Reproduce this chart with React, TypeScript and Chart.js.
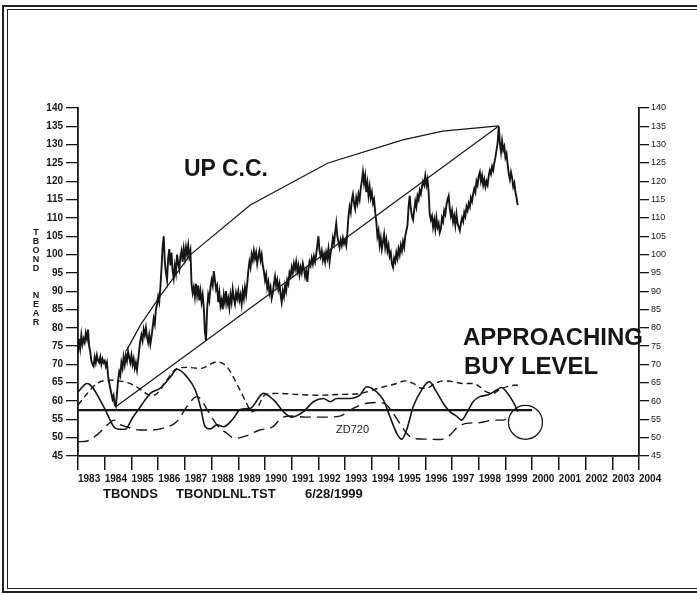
import React, { useEffect, useRef } from "react";
import { Chart, registerables } from "chart.js";

Chart.register(...registerables);

// ---------- data ----------
const yearMin = 1983;
const yearMax = 2004;
const valueMin = 45;
const valueMax = 140;
const valueStep = 5;

// T-bond price, half-month samples starting 1983.0
const priceStartYear = 1983;
const priceStepYears = 1 / 24;
const priceValues = [
  // 1983
  73, 77, 74.5, 78, 75.5, 77, 76, 78.5, 77, 79.5, 75, 73.5, 71, 70, 69.5, 72, 70.5, 72.5, 71, 70.5, 72, 70, 71.5, 70.5,
  // 1984
  71, 69.5, 70.5, 67, 65, 63.5, 62, 60.5, 61.5, 59, 58.5, 62, 65.5, 68, 67, 70.5, 69, 72, 70, 72.5, 71, 73.5, 72, 70.5,
  // 1985
  72.5, 70, 71.5, 69, 70.5, 68.5, 71, 74, 76.5, 78, 76.5, 79.5, 78, 80, 77.5, 76, 78, 75.5, 77.5, 80, 82.5, 81, 85, 86.5,
  // 1986
  88.5, 87, 91, 96, 102, 105, 98, 95, 93, 99, 101.5, 97, 100.5, 95.5, 93.5, 97, 95, 100, 97.5, 96, 99.5, 101, 98, 101.5,
  // 1987
  99, 102, 100, 102.5, 99.5, 101, 92, 89.5, 91, 88.5, 92, 89, 91.5, 87.5, 90, 87, 89, 85.5, 79, 76.5, 85, 89, 87.5, 91,
  // 1988
  93, 91.5, 95.5, 93, 90.5, 91.5, 87, 89.5, 86, 87.5, 85, 89, 87, 90, 86.5, 88, 85.5, 89, 87, 90.5, 88, 86.5, 89.5, 88,
  // 1989
  90, 87.5, 89, 86.5, 90, 88, 91, 89, 92, 95.5, 98, 96.5, 100, 98.5, 101, 99, 100.5, 97.5, 99.5, 101, 98.5, 100, 97, 95.5,
  // 1990
  93, 94.5, 91, 92.5, 89.5, 91, 88, 89.5, 92, 94, 91.5, 93, 90.5, 92, 89, 87, 90, 88.5, 91.5, 90, 93, 92, 95, 94,
  // 1991
  96.5, 95, 97.5, 96, 98, 95.5, 97, 94.5, 96.5, 95, 97.5, 96, 94, 95.5, 92.5, 96, 98, 97, 99, 97.5, 99.5, 98, 100, 102.5,
  // 1992
  105, 101, 99.5, 101, 98.5, 100, 98, 100.5, 99, 101.5, 98, 100.5, 102, 104.5, 103, 106, 108.5, 105, 103.5, 102, 104, 102.5, 104.5, 103,
  // 1993
  104, 102.5, 106, 110.5, 113, 111.5, 115, 116.5, 114, 112.5, 115.5, 114, 116.5, 115, 118, 120, 122.5, 119.5, 121.5, 117, 119.5, 116, 118.5, 115.5,
  // 1994
  117, 114, 115, 111.5, 109, 105, 106.5, 102.5, 104.5, 101.5, 103.5, 105.5, 102, 104, 101, 102.5, 99.5, 100.5, 97.5, 96.5, 99, 98, 100.5, 99,
  // 1995
  101.5, 100, 102.5, 101, 103.5, 102, 105, 106.5, 108, 113, 116, 112.5, 110.5, 109.5, 112, 114.5, 113, 116, 115, 117.5, 116.5, 118.5, 120, 119,
  // 1996
  121.5, 119, 120.5, 117, 111, 109.5, 110.5, 107.5, 109.5, 107, 110, 107.5, 108.5, 106, 107, 110, 109, 112, 111, 113.5, 115, 116, 112.5, 110.5,
  // 1997
  112, 109, 110.5, 108, 111, 108.5, 107.5, 106.5, 108.5, 110, 109, 111.5, 110.5, 113, 112, 114, 113, 115.5, 114.5, 116.5, 118, 117, 120, 119,
  // 1998
  121.5, 122.5, 120, 121.5, 119, 120.5, 118.5, 120, 119, 121.5, 123, 122, 124, 123, 125, 126.5, 128.5, 130.5, 135, 130.5, 128, 131, 128.5, 129.5,
  // 1999
  126.5, 127.5, 124.5, 122, 120.5, 122.5, 121, 118.5, 119.5, 117, 115.5, 113.5,
];

const upperChannelYears = [1984.81, 1985.34, 1986.08, 1987.2, 1989.45, 1992.36, 1995.16, 1996.65, 1998.75];
const upperChannelValues = [73.7, 80.8, 88.7, 99.9, 113.5, 125.0, 131.3, 133.7, 135.1];

const lowerChannelYears = [1984.44, 1998.75];
const lowerChannelValues = [58.6, 135.1];

const fastOscYears = [
  1983.0, 1983.34, 1983.96, 1984.34, 1984.51, 1984.77, 1985.03, 1985.34, 1985.71, 1986.08, 1986.46, 1986.71,
  1987.08, 1987.39, 1987.58, 1987.76, 1987.95, 1988.2, 1988.45, 1988.82, 1989.07, 1989.45, 1989.94, 1990.32,
  1990.69, 1991.0, 1991.44, 1991.81, 1992.19, 1992.44, 1992.69, 1993.18, 1993.56, 1993.81, 1994.18, 1994.43,
  1994.68, 1994.93, 1995.12, 1995.3, 1995.55, 1995.86, 1996.15, 1996.42, 1996.67, 1996.92, 1997.17, 1997.36,
  1997.54, 1997.79, 1998.04, 1998.35, 1998.67, 1998.85, 1999.04, 1999.29, 1999.47,
];
const fastOscValues = [
  62.5, 64.8, 58.5, 53, 52.3, 52.3, 55.3, 58.5, 62.1, 63.5, 66.6, 68.7,
  66.6, 63, 58.5, 53, 52.4, 53.5, 53, 55.3, 57.7, 58, 62.1, 60.3,
  57.1, 55.6, 57.1, 59.8, 60.7, 59.8, 60.7, 60.7, 61.7, 63.9, 62.5, 60.3,
  55.7, 51.2, 49.6, 52.1, 58.5, 63, 65.3, 62.5, 59.4, 57.1, 55.9, 54.8,
  56.6, 59.8, 61.2, 61.7, 63, 63.7, 62.5, 59.8, 57.1,
];

const midOscYears = [
  1983.0, 1983.34, 1983.71, 1984.2, 1984.7, 1985.07, 1985.45, 1985.71, 1985.95, 1986.3, 1986.71, 1987.08,
  1987.58, 1988.2, 1988.57, 1988.94, 1989.31, 1989.5, 1989.7, 1990.0, 1990.5, 1991.2, 1992.0, 1992.8,
  1993.5, 1993.81, 1994.1, 1994.45, 1994.93, 1995.24, 1995.55, 1995.86, 1996.05, 1996.36, 1996.67, 1997.04,
  1997.41, 1997.79, 1998.04, 1998.29, 1998.54, 1998.79, 1999.16, 1999.41, 1999.53,
];
const midOscValues = [
  58.9, 62, 64.8, 65.7, 65.3, 64.4, 62.6, 61.5, 62, 65.5, 68.9, 69.2,
  68.9, 70.7, 69.4, 64.8, 59.4, 57.1, 58, 61.7, 62.1, 61.8, 61.6, 61.8,
  62, 62.5, 63.2, 63.9, 64.8, 65.5, 64.8, 63.5, 63.5, 64.8, 65.5, 65.3,
  64.8, 64.8, 63.9, 62.5, 62.1, 63.2, 64.1, 64.4, 63.9,
];

const slowOscYears = [
  1983.0, 1983.35, 1983.7, 1984.1, 1984.35, 1984.6, 1984.8, 1985.3, 1985.8, 1986.2, 1986.7, 1987.08,
  1987.45, 1987.6, 1987.84, 1988.2, 1988.57, 1988.87, 1989.3, 1989.8, 1990.3, 1990.6, 1991.0, 1991.5,
  1992.2, 1992.8, 1993.3, 1993.8, 1994.3, 1994.55, 1994.8, 1995.05, 1995.3, 1995.55, 1996.05, 1996.55,
  1996.92, 1997.17, 1997.54, 1998.04, 1998.54, 1998.9, 1999.16,
];
const slowOscValues = [
  48.9, 49.1, 50.7, 53.5, 54.8, 53.5, 53, 52.1, 52.1, 52.6, 54.4, 58.5,
  61.2, 60.5, 57.6, 53.5, 51.2, 49.8, 50.5, 52.1, 53, 55.3, 55.9, 55.6,
  55.6, 55.9, 58, 59.4, 59.6, 58.9, 56.6, 53.9, 51.2, 49.8, 49.6, 49.5,
  50.7, 52.6, 53.9, 54.1, 54.8, 54.8, 55.7,
];

const buyLevelYears = [1983, 2000];
const buyLevelValues = [57.5, 57.5];

const circleYears = [1999.75];
const circleValues = [54.2];

// ---------- helpers ----------
const toPoints = (xs: number[], ys: number[]) => xs.map((x, i) => ({ x, y: ys[i] }));
const INK = "#161616";
const FONT = "'Liberation Sans', Arial, Helvetica, sans-serif";

export default function App() {
  const canvasRef = useRef<HTMLCanvasElement | null>(null);

  useEffect(() => {
    if (!canvasRef.current) return;
    Chart.defaults.font.family = FONT;
    const pricePoints = priceValues.map((v, i) => ({ x: priceStartYear + i * priceStepYears, y: v }));

    const chart = new Chart(canvasRef.current, {
      type: "line",
      data: {
        datasets: [
          {
            data: pricePoints,
            borderColor: INK,
            borderWidth: 1.9,
            pointRadius: 0,
            tension: 0,
          },
          {
            data: toPoints(upperChannelYears, upperChannelValues),
            borderColor: INK,
            borderWidth: 1.2,
            pointRadius: 0,
            tension: 0,
          },
          {
            data: toPoints(lowerChannelYears, lowerChannelValues),
            borderColor: INK,
            borderWidth: 1.2,
            pointRadius: 0,
            tension: 0,
          },
          {
            data: toPoints(buyLevelYears, buyLevelValues),
            borderColor: INK,
            borderWidth: 2.2,
            pointRadius: 0,
          },
          {
            data: toPoints(fastOscYears, fastOscValues),
            borderColor: INK,
            borderWidth: 1.6,
            pointRadius: 0,
            cubicInterpolationMode: "monotone",
          },
          {
            data: toPoints(midOscYears, midOscValues),
            borderColor: INK,
            borderWidth: 1.4,
            borderDash: [6, 4],
            pointRadius: 0,
            cubicInterpolationMode: "monotone",
          },
          {
            data: toPoints(slowOscYears, slowOscValues),
            borderColor: INK,
            borderWidth: 1.4,
            borderDash: [11, 6],
            pointRadius: 0,
            cubicInterpolationMode: "monotone",
          },
          {
            data: toPoints(circleYears, circleValues),
            showLine: false,
            pointRadius: 17,
            pointBorderWidth: 1.3,
            pointBorderColor: INK,
            pointBackgroundColor: "rgba(0,0,0,0)",
          },
        ],
      },
      options: {
        responsive: false,
        animation: false,
        devicePixelRatio: 1,
        layout: { padding: { top: 108, left: 0, right: 0, bottom: 0 } },
        plugins: { legend: { display: false }, tooltip: { enabled: false }, title: { display: false } },
        scales: {
          x: {
            type: "linear",
            position: "bottom",
            min: yearMin,
            max: yearMax,
            afterFit: (s: any) => {
              s.height = 138;
            },
            ticks: {
              stepSize: 1,
              autoSkip: false,
              maxRotation: 0,
              minRotation: 0,
              align: "start",
              padding: 3,
              color: INK,
              font: { family: FONT, size: 10, weight: "bold" },
              callback: (v: any) => String(v),
            },
            grid: { drawOnChartArea: false, drawTicks: true, tickLength: 14, color: INK, lineWidth: 1.5 },
            border: { display: true, color: INK, width: 1.8 },
          },
          y: {
            type: "linear",
            position: "left",
            min: valueMin,
            max: valueMax,
            afterFit: (s: any) => {
              s.width = 78;
            },
            ticks: {
              stepSize: valueStep,
              padding: 3,
              color: INK,
              font: { family: FONT, size: 10, weight: "bold" },
            },
            grid: { drawOnChartArea: false, drawTicks: true, tickLength: 12, color: INK, lineWidth: 1.3 },
            border: { display: true, color: INK, width: 1.8 },
          },
          y2: {
            type: "linear",
            position: "right",
            display: true,
            min: valueMin,
            max: valueMax,
            afterFit: (s: any) => {
              s.width = 58;
            },
            ticks: {
              stepSize: valueStep,
              padding: 2,
              color: INK,
              font: { family: FONT, size: 9 },
            },
            grid: { drawOnChartArea: false, drawTicks: true, tickLength: 10, color: INK, lineWidth: 1.3 },
            border: { display: true, color: INK, width: 1.8 },
          },
        },
      },
    });
    return () => chart.destroy();
  }, []);

  const abs = (extra: React.CSSProperties): React.CSSProperties => ({
    position: "absolute",
    fontFamily: FONT,
    color: INK,
    whiteSpace: "nowrap",
    lineHeight: 1,
    margin: 0,
    ...extra,
  });

  const verticalLetters = ["T", "B", "O", "N", "D", "", "", "N", "E", "A", "R"];

  return (
    <div style={{ position: "absolute", left: 0, top: 0, width: 697, height: 594, background: "#fff", overflow: "hidden" }}>
      <canvas ref={canvasRef} width={697} height={594} style={{ position: "absolute", left: 0, top: 0, display: "block" }} />
      {/* frame */}
      <div style={{ position: "absolute", left: 2, top: 5, width: 740, height: 588, border: "2px solid #222", boxSizing: "border-box" }} />
      <div style={{ position: "absolute", left: 7, top: 9, width: 740, height: 580, border: "1.5px solid #222", boxSizing: "border-box" }} />
      {/* annotations */}
      <div style={abs({ left: 184, top: 157, fontSize: 23, fontWeight: "bold" })}>UP C.C.</div>
      <div style={abs({ left: 463, top: 325, fontSize: 24, fontWeight: "bold" })}>APPROACHING</div>
      <div style={abs({ left: 464, top: 354, fontSize: 24, fontWeight: "bold" })}>BUY LEVEL</div>
      <div style={abs({ left: 336, top: 424, fontSize: 11 })}>ZD720</div>
      <div style={abs({ left: 103, top: 487, fontSize: 13, fontWeight: "bold" })}>TBONDS</div>
      <div style={abs({ left: 176, top: 487, fontSize: 13, fontWeight: "bold" })}>TBONDLNL.TST</div>
      <div style={abs({ left: 305, top: 487, fontSize: 13, fontWeight: "bold" })}>6/28/1999</div>
      <div style={abs({ left: 31, top: 228, width: 10, textAlign: "center", fontSize: 9, fontWeight: "bold" })}>
        {verticalLetters.map((c, i) => (
          <div key={i} style={{ height: 9, lineHeight: "9px" }}>
            {c}
          </div>
        ))}
      </div>
    </div>
  );
}
